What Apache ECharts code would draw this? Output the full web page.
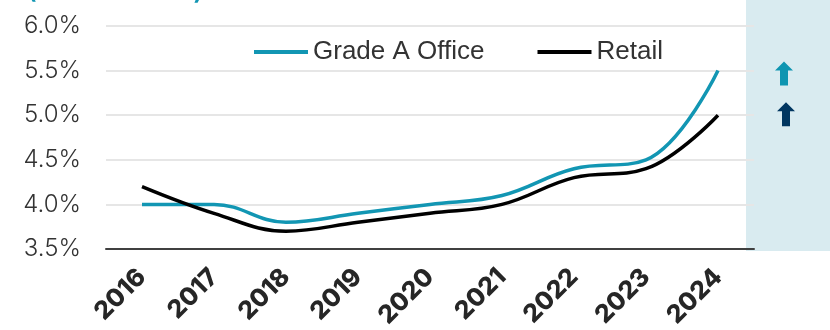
<!DOCTYPE html>
<html>
<head>
<meta charset="utf-8">
<script src="https://cdn.jsdelivr.net/npm/echarts@6/dist/echarts.min.js"></script>
<style>
  html, body { margin: 0; padding: 0; background: #ffffff; }
  #chart { width: 830px; height: 330px; }
</style>
</head>
<body>
<div id="chart"></div>
<script>
// Yield series by year
const years = ['2016', '2017', '2018', '2019', '2020', '2021', '2022', '2023', '2024'];
const gradeAOffice = [4.0, 4.0, 3.8, 3.9, 4.0, 4.1, 4.4, 4.5, 5.5];
const retail = [4.2, 3.9, 3.7, 3.8, 3.9, 4.0, 4.3, 4.4, 5.0];
const yTicks = { min: 3.5, max: 6.0, step: 0.5 };

const TEAL = '#1296b3';
const NAVY = '#003660';

function arrowPoints(cx, cy) {
  return [
    [cx, cy - 12], [cx + 9, cy - 3], [cx + 4, cy - 3], [cx + 4, cy + 12],
    [cx - 4, cy + 12], [cx - 4, cy - 3], [cx - 9, cy - 3]
  ];
}

function draw() {
  const chart = echarts.init(document.getElementById('chart'), null, { renderer: 'canvas' });

  chart.setOption({
    animation: false,
    backgroundColor: '#ffffff',
    grid: { left: 106, right: 76, top: 26, bottom: 81, containLabel: false, outerBoundsMode: 'none' },
    legend: {
      left: 249,
      top: 34,
      itemWidth: 54,
      itemHeight: 4,
      itemGap: 53,
      icon: 'rect',
      textStyle: { fontFamily: 'Liberation Sans', fontSize: 26, color: '#333333' },
      data: ['Grade A Office', 'Retail']
    },
    xAxis: {
      type: 'category',
      data: years,
      boundaryGap: true,
      axisLine: { lineStyle: { color: '#404040', width: 2 } },
      axisTick: { show: false },
      axisLabel: {
        rotate: 45,
        margin: 24,
        fontFamily: 'Inter',
        fontWeight: 800,
        fontSize: 25,
        color: '#262626'
      }
    },
    yAxis: {
      type: 'value',
      min: yTicks.min,
      max: yTicks.max,
      interval: yTicks.step,
      axisLine: { show: false },
      axisTick: { show: false },
      splitLine: { lineStyle: { color: '#e6e6e6', width: 2 } },
      axisLabel: {
        margin: 25,
        fontFamily: 'Inter',
        fontWeight: 300,
        fontSize: 24,
        color: '#333333',
        formatter: v => v.toFixed(1) + '%'
      }
    },
    series: [
      {
        name: 'Grade A Office',
        type: 'line',
        data: gradeAOffice,
        smooth: 0.4,
        symbol: 'none',
        z: 5,
        lineStyle: { color: TEAL, width: 3.5 },
        itemStyle: { color: TEAL }
      },
      {
        name: 'Retail',
        type: 'line',
        data: retail,
        smooth: 0.4,
        symbol: 'none',
        z: 6,
        lineStyle: { color: '#000000', width: 3.5 },
        itemStyle: { color: '#000000' }
      }
    ]
  });

  // Side panel with trend arrows placed at the latest values
  const last = years.length - 1;
  const yOffice = chart.convertToPixel({ yAxisIndex: 0 }, gradeAOffice[last]);
  const yRetail = chart.convertToPixel({ yAxisIndex: 0 }, retail[last]);

  chart.setOption({
    graphic: [
      {
        type: 'rect',
        z: -10,
        shape: { x: 746, y: 0, width: 84, height: 251 },
        style: { fill: '#d9ebf0' }
      },
      {
        type: 'polygon',
        z: 10,
        shape: { points: arrowPoints(784, yOffice + 3) },
        style: { fill: '#0e95b1' }
      },
      {
        type: 'polygon',
        z: 10,
        shape: { points: arrowPoints(786, yRetail - 1) },
        style: { fill: NAVY }
      },
      {
        type: 'text',
        z: 10,
        style: {
          x: 27,
          y: 4,
          text: '(Prime Yields)',
          font: '600 26px Inter',
          fill: TEAL,
          verticalAlign: 'bottom'
        }
      }
    ]
  });
}

Promise.all([
  document.fonts.load('300 24px Inter'),
  document.fonts.load('800 25px Inter'),
  document.fonts.load('600 26px Inter'),
  document.fonts.load('26px "Liberation Sans"')
]).then(draw, draw);
</script>
</body>
</html>
